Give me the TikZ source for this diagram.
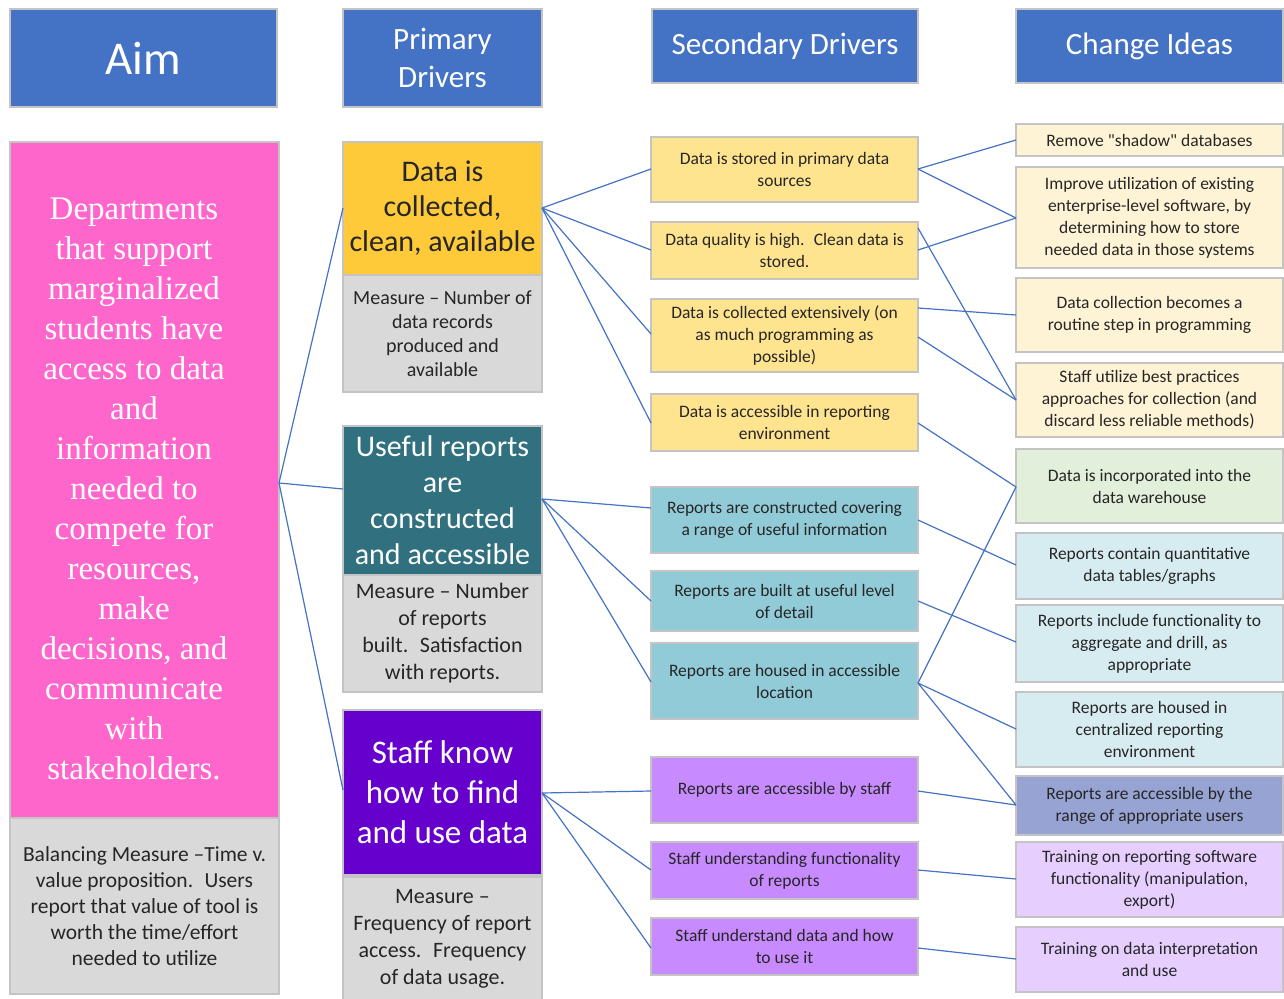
\documentclass[tikz,border=0pt]{standalone}
\usepackage{fontspec}
\setmainfont{Carlito}
\newfontfamily\aimserif{Liberation Serif}
\usetikzlibrary{calc}

\definecolor{headblue}{HTML}{4472C4}
\definecolor{aimpink}{HTML}{FF66CC}
\definecolor{measgrey}{HTML}{D9D9D9}
\definecolor{boxline}{HTML}{C4C4C4}
\definecolor{txtdark}{HTML}{262626}
\definecolor{pdyellow}{HTML}{FFCA3A}
\definecolor{pdteal}{HTML}{31707E}
\definecolor{pdpurple}{HTML}{6600CC}
\definecolor{sdyellow}{HTML}{FFE490}
\definecolor{sdteal}{HTML}{92CBD8}
\definecolor{sdpurple}{HTML}{C88BFF}
\definecolor{cicream}{HTML}{FFF3D6}
\definecolor{cigreen}{HTML}{E2EFDA}
\definecolor{ciblue}{HTML}{D7ECF1}
\definecolor{cislate}{HTML}{97A3D3}
\definecolor{cililac}{HTML}{E6CEFF}
\definecolor{connblue}{HTML}{4472C4}

\newcommand\setfs[2]{\fontsize{#1}{#2}\selectfont}

\tikzset{
  box/.style={rectangle, draw=boxline, line width=1.2pt, inner sep=0pt, outer sep=0pt, align=center},
  head/.style={box, fill=headblue, text=white},
  measbox/.style={box, fill=measgrey, text=txtdark, minimum width=199pt},
  pdbox/.style={box, minimum width=199pt},
  sdbox/.style={box, minimum width=267pt, text=txtdark, font=\setfs{17.5}{22}},
  cibox/.style={box, minimum width=267pt, text=txtdark, font=\setfs{17.5}{22}},
  conn/.style={draw=connblue, line width=1.2pt}
}

\begin{document}
\begin{tikzpicture}[x=1pt,y=-1pt]
\useasboundingbox (0,0) rectangle (1284,998);

% column headers
\node[head, minimum width=267pt, minimum height=98pt, font=\setfs{47}{58}] (haim) at (143.5,58) {Aim};
\node[head, minimum width=199pt, minimum height=98pt, font=\setfs{31}{38}] (hpd) at (442.5,58) {Primary\\Drivers};
\node[head, minimum width=266pt, minimum height=74pt, font=\setfs{31}{38}] (hsd) at (785,46) {Secondary Drivers};
\node[head, minimum width=267pt, minimum height=74pt, font=\setfs{31}{38}] (hci) at (1149.5,46) {Change Ideas};

% aim
\node[box, fill=aimpink, minimum width=269pt, minimum height=676pt] (aim) at (144.5,480) {};
\node[align=center, text=white, inner sep=0pt, font=\aimserif\setfs{33}{40}] (aimtxt) at (134,489)
  {Departments\\that support\\marginalized\\students have\\access to data\\and\\information\\needed to\\compete for\\resources,\\make\\decisions, and\\communicate\\with\\stakeholders.};
\node[measbox, minimum width=269pt, minimum height=176pt, font=\setfs{21.5}{26}] (aimm) at (144.5,906)
  {Balancing Measure --Time v.\\value proposition.~ Users\\report that value of tool is\\worth the time/effort\\needed to utilize};

% primary drivers
\node[pdbox, fill=pdyellow, text=txtdark, minimum height=133pt, font=\setfs{30}{35}] (pd1) at (442.5,208.5)
  {Data is\\collected,\\clean, available};
\node[measbox, minimum height=117pt, font=\setfs{20}{24}] (pd1m) at (442.5,333.5)
  {Measure -- Number of\\data records\\produced and\\available};

\node[pdbox, fill=pdteal, text=white, minimum height=149pt, font=\setfs{30}{36}] (pd2) at (442.5,500.5)
  {Useful reports\\are\\constructed\\and accessible};
\node[measbox, minimum height=117pt, font=\setfs{22}{27}] (pd2m) at (442.5,633.5)
  {Measure -- Number\\of reports\\built.~ Satisfaction\\with reports.};

\node[pdbox, fill=pdpurple, text=white, minimum height=165pt, font=\setfs{33}{40}] (pd3) at (442.5,792.5)
  {Staff know\\how to find\\and use data};
\node[measbox, minimum height=123pt, font=\setfs{22}{27}] (pd3m) at (442.5,938.5)
  {Measure --\\Frequency of report\\access.~ Frequency\\of data usage.};

% secondary drivers
\node[sdbox, fill=sdyellow, minimum height=65pt] (s1) at (784.5,169.5) {Data is stored in primary data\\sources};
\node[sdbox, fill=sdyellow, minimum height=57pt] (s2) at (784.5,250.5) {Data quality is high.~ Clean data is\\stored.};
\node[sdbox, fill=sdyellow, minimum height=73pt] (s3) at (784.5,335.5) {Data is collected extensively (on\\as much programming as\\possible)};
\node[sdbox, fill=sdyellow, minimum height=57pt] (s4) at (784.5,422.5) {Data is accessible in reporting\\environment};
\node[sdbox, fill=sdteal, minimum height=66pt] (s5) at (784.5,520) {Reports are constructed covering\\a range of useful information};
\node[sdbox, fill=sdteal, minimum height=60pt] (s6) at (784.5,601) {Reports are built at useful level\\of detail};
\node[sdbox, fill=sdteal, minimum height=76pt] (s7) at (784.5,681) {Reports are housed in accessible\\location};
\node[sdbox, fill=sdpurple, minimum height=66pt] (s8) at (784.5,790) {Reports are accessible by staff};
\node[sdbox, fill=sdpurple, minimum height=57pt] (s9) at (784.5,870.5) {Staff understanding functionality\\of reports};
\node[sdbox, fill=sdpurple, minimum height=57pt] (s10) at (784.5,946.5) {Staff understand data and how\\to use it};

% change ideas
\node[cibox, fill=cicream, minimum height=32pt] (c1) at (1149.5,140) {Remove \textquotedbl shadow\textquotedbl\ databases};
\node[cibox, fill=cicream, minimum height=101pt] (c2) at (1149.5,217.5) {Improve utilization of existing\\enterprise-level software, by\\determining how to store\\needed data in those systems};
\node[cibox, fill=cicream, minimum height=74pt] (c3) at (1149.5,315) {Data collection becomes a\\routine step in programming};
\node[cibox, fill=cicream, minimum height=74pt] (c4) at (1149.5,400) {Staff utilize best practices\\approaches for collection (and\\discard less reliable methods)};
\node[cibox, fill=cigreen, minimum height=74pt] (c5) at (1149.5,486) {Data is incorporated into the\\data warehouse};
\node[cibox, fill=ciblue, minimum height=66pt] (c6) at (1149.5,566) {Reports contain quantitative\\data tables/graphs};
\node[cibox, fill=ciblue, minimum height=77pt] (c7) at (1149.5,643.5) {Reports include functionality to\\aggregate and drill, as\\appropriate};
\node[cibox, fill=ciblue, minimum height=75pt] (c8) at (1149.5,729.5) {Reports are housed in\\centralized reporting\\environment};
\node[cibox, fill=cislate, minimum height=59pt] (c9) at (1149.5,805.5) {Reports are accessible by the\\range of appropriate users};
\node[cibox, fill=cililac, minimum height=75pt] (c10) at (1149.5,879.5) {Training on reporting software\\functionality (manipulation,\\export)};
\node[cibox, fill=cililac, minimum height=65pt] (c11) at (1149.5,959.5) {Training on data interpretation\\and use};

% aim to primary drivers
\draw[conn] (aim.east |- 0,483) -- (pd1.west |- 0,208);
\draw[conn] (aim.east |- 0,483) -- (pd2.west |- 0,489);
\draw[conn] (aim.east |- 0,483) -- (pd3.west |- 0,790);

% primary to secondary drivers
\draw[conn] (pd1.east |- 0,208) -- (s1.west |- 0,169);
\draw[conn] (pd1.east |- 0,208) -- (s2.west |- 0,250);
\draw[conn] (pd1.east |- 0,208) -- (s3.west |- 0,334);
\draw[conn] (pd1.east |- 0,208) -- (s4.west |- 0,423);
\draw[conn] (pd2.east |- 0,499) -- (s5.west |- 0,508);
\draw[conn] (pd2.east |- 0,499) -- (s6.west |- 0,601);
\draw[conn] (pd2.east |- 0,499) -- (s7.west |- 0,682);
\draw[conn] (pd3.east |- 0,793) -- (s8.west |- 0,791);
\draw[conn] (pd3.east |- 0,793) -- (s9.west |- 0,870);
\draw[conn] (pd3.east |- 0,793) -- (s10.west |- 0,948);

% secondary drivers to change ideas
\draw[conn] (s1.east |- 0,169) -- (c1.west |- 0,140);
\draw[conn] (s1.east |- 0,169) -- (c2.west |- 0,218);
\draw[conn] (s2.east |- 0,250) -- (c2.west |- 0,218);
\draw[conn] (s2.east |- 0,228) -- (c4.west |- 0,400);
\draw[conn] (s3.east |- 0,308) -- (c3.west |- 0,315);
\draw[conn] (s3.east |- 0,337) -- (c4.west |- 0,400);
\draw[conn] (s4.east |- 0,423) -- (c5.west |- 0,487);
\draw[conn] (s5.east |- 0,520) -- (c6.west |- 0,565);
\draw[conn] (s6.east |- 0,601) -- (c7.west |- 0,642);
\draw[conn] (s7.east |- 0,683) -- (c5.west |- 0,487);
\draw[conn] (s7.east |- 0,683) -- (c8.west |- 0,729);
\draw[conn] (s7.east |- 0,683) -- (c9.west |- 0,805);
\draw[conn] (s8.east |- 0,791) -- (c9.west |- 0,805);
\draw[conn] (s9.east |- 0,870) -- (c10.west |- 0,879);
\draw[conn] (s10.east |- 0,948) -- (c11.west |- 0,959);
\end{tikzpicture}
\end{document}
